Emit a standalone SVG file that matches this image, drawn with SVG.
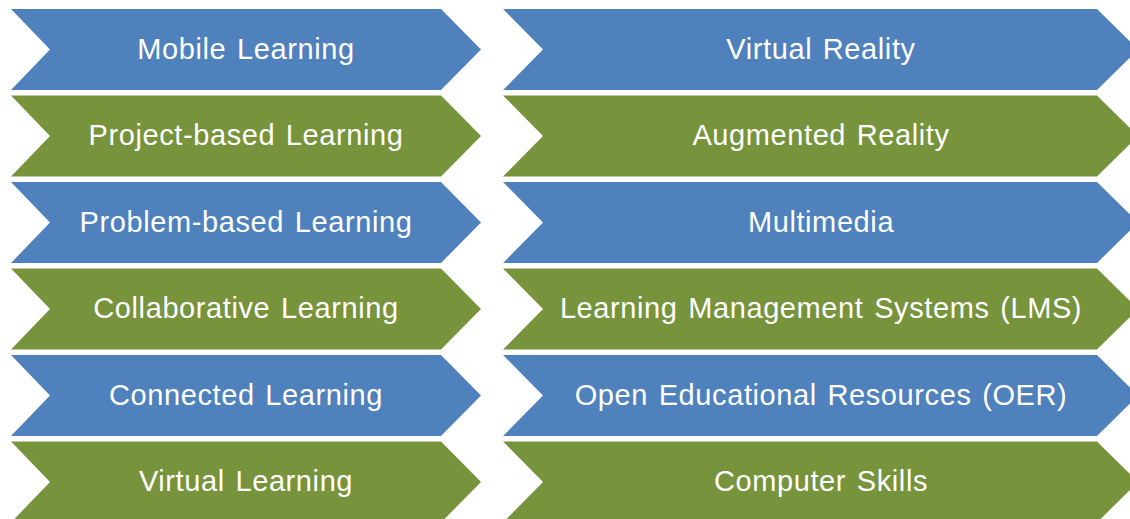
<svg xmlns="http://www.w3.org/2000/svg" width="1130" height="519" viewBox="0 0 1130 519">
<style>
.b{fill:#4F81BD}
.g{fill:#77933C}
text{font-family:"Liberation Sans",Arial,sans-serif;font-size:29px;fill:#FFFFFF;text-anchor:middle;letter-spacing:0.6px;word-spacing:2px}
</style>
<defs>
<path id="L" d="M11 0 H441 L481 40.5 L441 81 H11 L50 40.5 Z"/>
<path id="R" d="M503 0 H1097 L1138 40.5 L1097 81 H503 L543 40.5 Z"/>
</defs>
<rect width="1130" height="519" fill="#FFFFFF"/>
<g id="n1" transform="translate(0,9)"><use href="#L" class="b"/><text x="246" y="49.5">Mobile Learning</text></g>
<g id="n2" transform="translate(0,95.5)"><use href="#L" class="g"/><text x="246" y="49.5">Project-based Learning</text></g>
<g id="n3" transform="translate(0,182)"><use href="#L" class="b"/><text x="246" y="49.5">Problem-based Learning</text></g>
<g id="n4" transform="translate(0,268.5)"><use href="#L" class="g"/><text x="246" y="49.5">Collaborative Learning</text></g>
<g id="n5" transform="translate(0,355)"><use href="#L" class="b"/><text x="246" y="49.5">Connected Learning</text></g>
<g id="n6" transform="translate(0,441.5)"><use href="#L" class="g"/><text x="246" y="49.5">Virtual Learning</text></g>
<g id="n7" transform="translate(0,9)"><use href="#R" class="b"/><text x="821" y="49.5">Virtual Reality</text></g>
<g id="n8" transform="translate(0,95.5)"><use href="#R" class="g"/><text x="821" y="49.5">Augmented Reality</text></g>
<g id="n9" transform="translate(0,182)"><use href="#R" class="b"/><text x="821" y="49.5">Multimedia</text></g>
<g id="n10" transform="translate(0,268.5)"><use href="#R" class="g"/><text x="821" y="49.5">Learning Management Systems (LMS)</text></g>
<g id="n11" transform="translate(0,355)"><use href="#R" class="b"/><text x="821" y="49.5">Open Educational Resources (OER)</text></g>
<g id="n12" transform="translate(0,441.5)"><use href="#R" class="g"/><text x="821" y="49.5">Computer Skills</text></g>
<g id="connectors"></g>
</svg>
